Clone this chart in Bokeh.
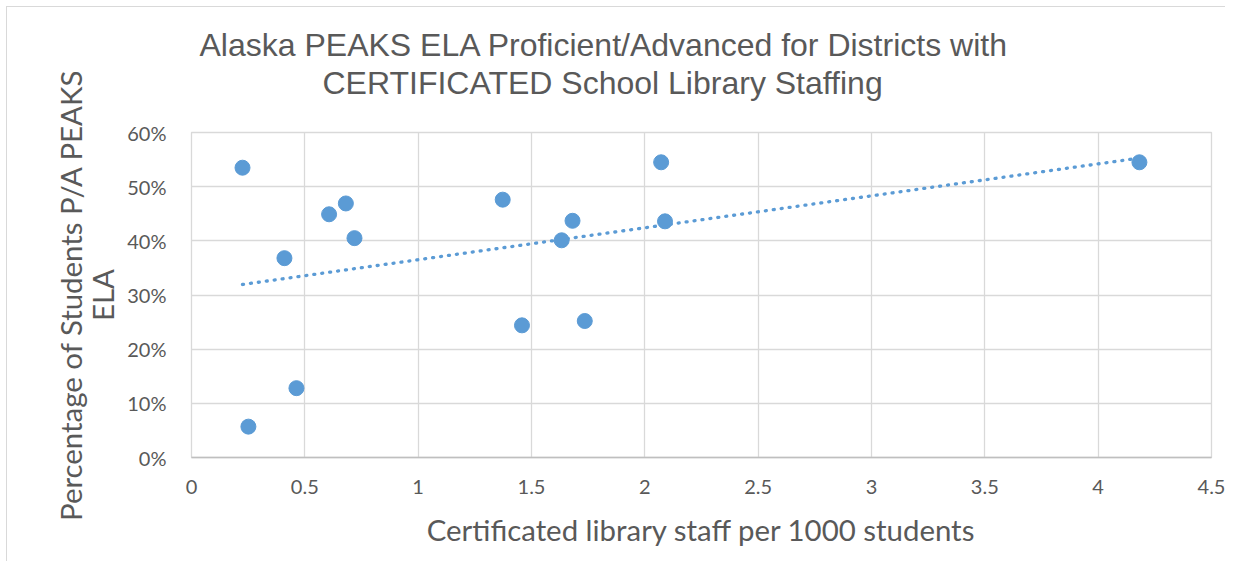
import numpy as np
from bokeh.plotting import figure
from bokeh.models import Range1d, FixedTicker, PrintfTickFormatter, Title, InlineStyleSheet
from bokeh.embed import file_html
from bokeh.resources import INLINE

# ---- data ----
staff_per_1000 = [0.225, 0.251, 0.410, 0.463, 0.607, 0.681, 0.719,
                  1.373, 1.458, 1.633, 1.681, 1.735, 2.072, 2.089, 4.182]
pct_proficient = [53.5, 5.7, 36.8, 12.8, 44.9, 46.9, 40.5,
                  47.6, 24.4, 40.1, 43.7, 25.2, 54.5, 43.6, 54.5]
x_ticks = [0, 0.5, 1, 1.5, 2, 2.5, 3, 3.5, 4, 4.5]
y_ticks = [0, 10, 20, 30, 40, 50, 60]
title_lines = ["Alaska PEAKS ELA Proficient/Advanced for Districts with",
               "CERTIFICATED School Library Staffing"]
x_title = "Certificated library staff per 1000 students"
y_title_lines = ["Percentage of Students P/A PEAKS", "ELA"]

BLUE = "#5B9BD5"
GRID = "#D9D9D9"
TXT = "#595959"

p = figure(width=1225, height=561,
           x_range=Range1d(0, 4.5), y_range=Range1d(0, 60),
           output_backend="svg", toolbar_location=None,
           min_border_left=191, min_border_right=14,
           min_border_top=132, min_border_bottom=104)
p.background_fill_color = "white"
p.border_fill_color = "white"
p.outline_line_color = GRID
p.outline_line_width = 1.3
p.stylesheets = [InlineStyleSheet(css="""
:host { position: relative; }
:host::after {
  content: ""; position: absolute; left: 6px; top: 6px;
  width: calc(100% - 6px); height: calc(100% - 6px);
  border-left: 1px solid #D9D9D9; border-top: 1px solid #D9D9D9;
  box-sizing: border-box; pointer-events: none; z-index: 10;
}
""")]

# grids
p.xgrid.ticker = FixedTicker(ticks=x_ticks)
p.ygrid.ticker = FixedTicker(ticks=y_ticks)
for g in (p.xgrid, p.ygrid):
    g.grid_line_color = GRID
    g.grid_line_width = 1.3

# axes
p.xaxis.ticker = FixedTicker(ticks=x_ticks)
p.yaxis.ticker = FixedTicker(ticks=y_ticks)
p.yaxis.formatter = PrintfTickFormatter(format="%d%%")
for ax in (p.xaxis, p.yaxis):
    ax.major_tick_line_color = None
    ax.minor_tick_line_color = None
    ax.major_label_text_font = "Lato"
    ax.major_label_text_font_size = "20px"
    ax.major_label_text_color = TXT
    ax.axis_label_text_font = "Lato"
    ax.axis_label_text_font_size = "29.4px"
    ax.axis_label_text_font_style = "normal"
    ax.axis_label_text_color = TXT
p.xaxis.axis_line_color = "#BFBFBF"
p.xaxis.axis_line_width = 1.5
p.yaxis.axis_line_color = None
p.xaxis.major_label_standoff = 16
p.yaxis.major_label_standoff = 19

p.xaxis.axis_label = x_title
p.xaxis.axis_label_standoff = 15
p.yaxis.axis_label = "\n".join(y_title_lines)
p.yaxis.axis_label_standoff = 4
p.yaxis.axis_label_text_line_height = 0.92

# trendline (least squares, as Excel's linear trendline)
xs = np.array(staff_per_1000)
ys = np.array(pct_proficient)
slope, intercept = np.polyfit(xs, ys, 1)
tx = np.array([xs.min(), xs.max()])
p.line(tx, slope * tx + intercept, line_color=BLUE, line_width=3.3,
       line_dash="1 7", line_cap="round")

# points
p.scatter(staff_per_1000, pct_proficient, size=15, marker="circle",
          fill_color=BLUE, line_color=BLUE, line_width=1)

# title: spacer nearest the frame, then the second line, then the first
p.add_layout(Title(text=" ", text_font_size="2px", standoff=28,
                   text_color="white"), "above")
p.add_layout(Title(text=title_lines[1], align="left", offset=131,
                   text_font="Liberation Sans", text_font_size="32px",
                   text_font_style="normal", text_color=TXT, standoff=0), "above")
p.add_layout(Title(text=title_lines[0], align="left", offset=8,
                   text_font="Liberation Sans", text_font_size="32px",
                   text_font_style="normal", text_color=TXT, standoff=0), "above")

open("out.html", "w").write(file_html(p, INLINE))
